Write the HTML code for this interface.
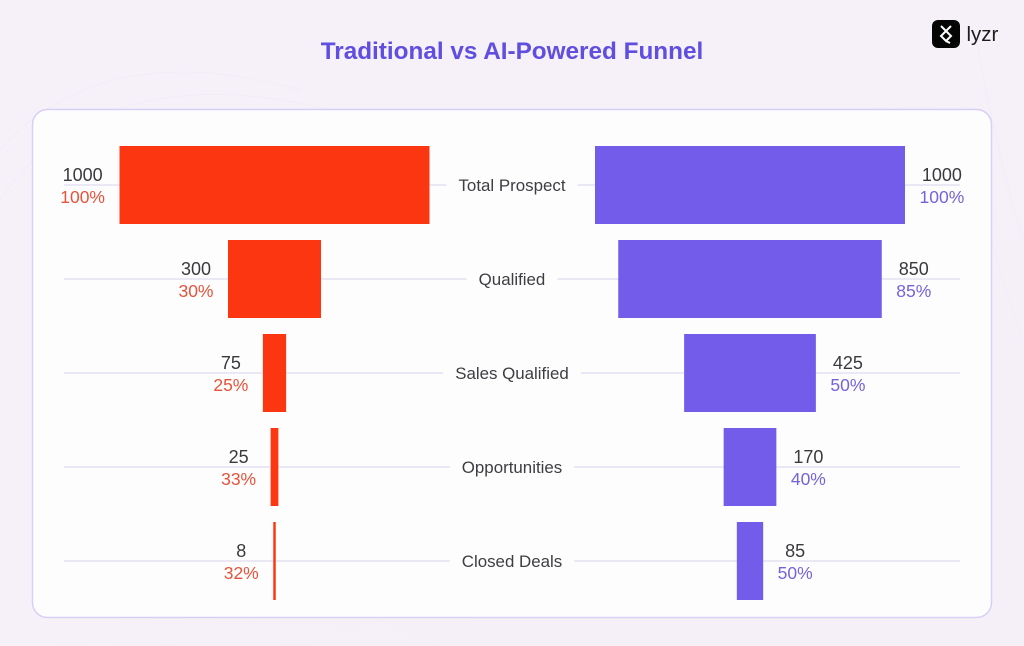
<!DOCTYPE html>
<html lang="en">
<head>
<meta charset="utf-8">
<title>Traditional vs AI-Powered Funnel</title>
<style>
html,body{margin:0;padding:0;width:1024px;height:646px;overflow:hidden;background:#f6f2f9}
svg{display:block}
text{font-family:"Liberation Sans",sans-serif}
</style>
</head>
<body>
<svg id="chart" width="1024" height="646" viewBox="0 0 1024 646" xmlns="http://www.w3.org/2000/svg">
  <defs>
    <linearGradient id="bgGrad" x1="0" y1="0" x2="1" y2="1">
      <stop offset="0" stop-color="#f6f1f9"/>
      <stop offset="1" stop-color="#f5f0f8"/>
    </linearGradient>
  </defs>
  <rect x="0" y="0" width="1024" height="646" fill="url(#bgGrad)"/>
  <g fill="none" stroke="#f1ecf6" stroke-width="1">
    <path d="M0 150C60 80 160 50 300 90"/>
    <path d="M0 200C60 110 170 70 330 110"/>
    <path d="M950 120C985 200 1005 300 1024 340"/>
    <path d="M975 30C990 120 1010 200 1024 240"/>
  </g>
  <rect x="32.5" y="109.5" width="959" height="508" rx="15" fill="#fefdfe" stroke="#d6cff6" stroke-width="1.5"/>
  <text x="512" y="59" text-anchor="middle" font-size="24.3" font-weight="700" fill="#5f4ee0">Traditional vs AI-Powered Funnel</text>
  <g>
    <rect x="932" y="20" width="28" height="28" rx="6" fill="#050505"/>
    <path d="M941 26L951 36L946 41L941 36L951 26M946 41L950 43" stroke="#ffffff" stroke-width="2" fill="none"/>
    <text x="966.5" y="41" font-size="20.5" fill="#1c1c1c">lyzr</text>
  </g>
  <g id="plot"></g>
</svg>
<script>
var stages = ['Total Prospect', 'Qualified', 'Sales Qualified', 'Opportunities', 'Closed Deals'];
var traditionalValues = [1000, 300, 75, 25, 8];
var traditionalPercents = ['100%', '30%', '25%', '33%', '32%'];
var aiValues = [1000, 850, 425, 170, 85];
var aiPercents = ['100%', '85%', '50%', '40%', '50%'];

var NS = 'http://www.w3.org/2000/svg';
var plot = document.getElementById('plot');
var leftCenter = 274.5;
var rightCenter = 750;
var maxValue = 1000;
var maxWidth = 310;
var firstRowY = 185;
var rowStep = 94;
var barHeight = 78;
var labelGap = 14.5;

function widthScale(value) { return value / maxValue * maxWidth; }
function rowY(index) { return firstRowY + index * rowStep; }

function addText(content, x, y, size, fill, anchor) {
  var t = document.createElementNS(NS, 'text');
  t.setAttribute('x', x);
  t.setAttribute('y', y);
  t.setAttribute('font-size', size);
  t.setAttribute('fill', fill);
  t.setAttribute('text-anchor', anchor);
  t.textContent = content;
  plot.appendChild(t);
  return t;
}

stages.forEach(function (stage, i) {
  var y = rowY(i);

  var line = document.createElementNS(NS, 'line');
  line.setAttribute('x1', 64);
  line.setAttribute('x2', 960);
  line.setAttribute('y1', y);
  line.setAttribute('y2', y);
  line.setAttribute('stroke', '#e0dcf0');
  line.setAttribute('stroke-width', 1.2);
  
  
  plot.appendChild(line);

  var label = addText(stage, 512, y + 6, 16.9, '#3d3d42', 'middle');
  
  
  var labelWidth = label.getComputedTextLength();

  var backing = document.createElementNS(NS, 'rect');
  backing.setAttribute('x', 512 - labelWidth / 2 - 12);
  backing.setAttribute('y', y - 6);
  backing.setAttribute('width', labelWidth + 24);
  backing.setAttribute('height', 12);
  backing.setAttribute('fill', '#fefdfe');
  
  
  plot.insertBefore(backing, label);

  var tw = widthScale(traditionalValues[i]);
  var tLeft = leftCenter - tw / 2;
  var tBar = document.createElementNS(NS, 'rect');
  tBar.setAttribute('x', tLeft);
  tBar.setAttribute('y', y - barHeight / 2);
  tBar.setAttribute('width', tw);
  tBar.setAttribute('height', barHeight);
  tBar.setAttribute('fill', '#fd3612');
  
  
  plot.appendChild(tBar);

  var tPct = addText(traditionalPercents[i], tLeft - labelGap, y + 18, 17.5, '#e5533a', 'end');
  
  
  var tPctWidth = tPct.getComputedTextLength();
  var tVal = addText(String(traditionalValues[i]), tLeft - labelGap - tPctWidth / 2, y - 4, 18, '#3a3a3e', 'middle');
  
  

  var aw = widthScale(aiValues[i]);
  var aRight = rightCenter + aw / 2;
  var aBar = document.createElementNS(NS, 'rect');
  aBar.setAttribute('x', aRight - aw);
  aBar.setAttribute('y', y - barHeight / 2);
  aBar.setAttribute('width', aw);
  aBar.setAttribute('height', barHeight);
  aBar.setAttribute('fill', '#735ce9');
  
  
  plot.appendChild(aBar);

  var aPct = addText(aiPercents[i], aRight + labelGap, y + 18, 17.5, '#7563d8', 'start');
  
  
  var aPctWidth = aPct.getComputedTextLength();
  var aVal = addText(String(aiValues[i]), aRight + labelGap + aPctWidth / 2, y - 4, 18, '#3a3a3e', 'middle');
  
  
});
</script>
</body>
</html>
